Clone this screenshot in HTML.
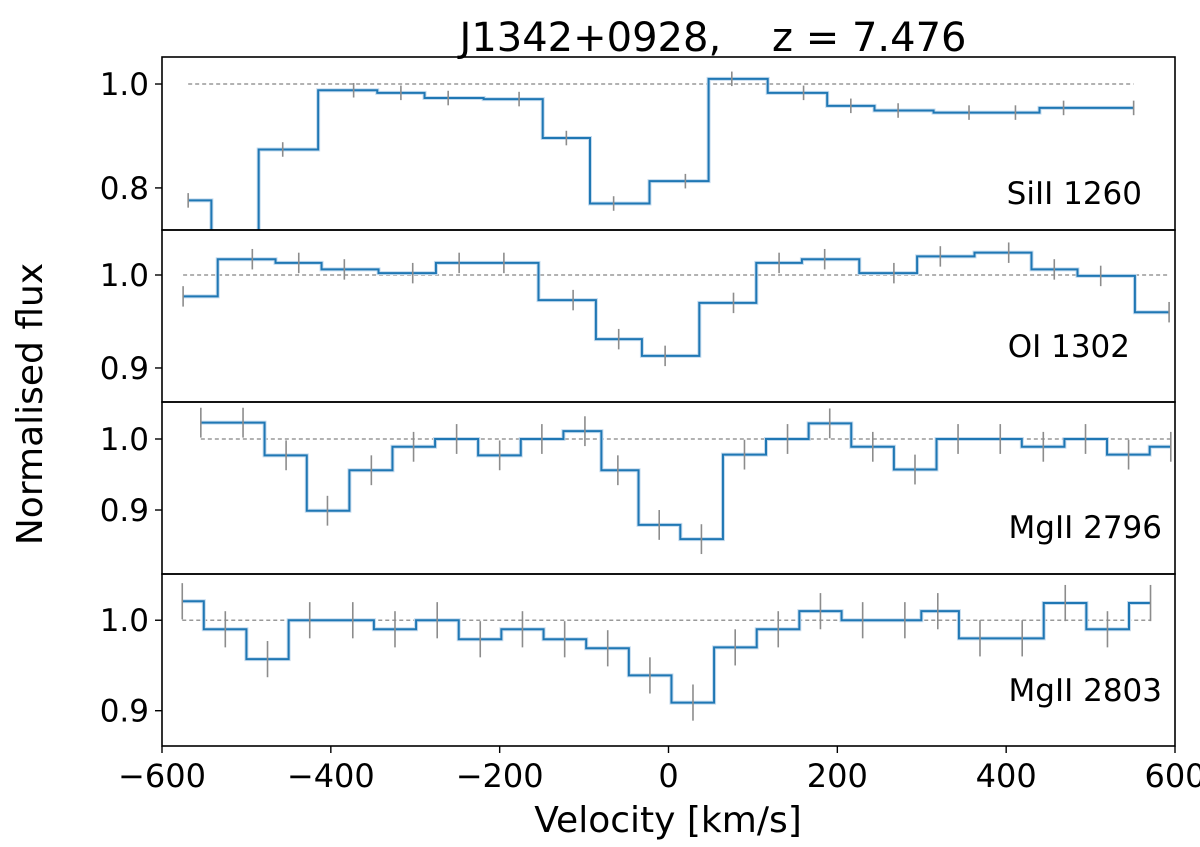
<!DOCTYPE html>
<html><head><meta charset="utf-8"><style>
html,body{margin:0;padding:0;background:#fff;}
svg{display:block;font-family:"DejaVu Sans","Liberation Sans",sans-serif;}
</style></head><body>
<svg id="chart" width="1200" height="847" viewBox="0 0 1200 847" xmlns="http://www.w3.org/2000/svg">
<text x="713" y="51" font-size="40" text-anchor="middle" style="white-space:pre" xml:space="preserve">J1342+0928,    z = 7.476</text>
<text transform="translate(42,404) rotate(-90)" font-size="36" text-anchor="middle">Normalised flux</text>
<text x="668" y="832" font-size="36" text-anchor="middle">Velocity [km/s]</text>
<g id="panels"></g>
</svg>
<script>
// Panel 1: SiII 1260
const siVel = [-569,-514,-457,-373,-317,-261,-177,-121,-65,20,75,160,216,272,356,411,468,551];
const siFlux = [0.776,0.60,0.874,0.988,0.983,0.973,0.971,0.896,0.770,0.813,1.010,0.983,0.958,0.949,0.945,0.945,0.954,0.954];
// Panel 2: OI 1302
const oiVel = [-575,-493,-438,-384,-303,-248,-195,-113,-59,-4,77,131,185,267,322,403,457,512,593];
const oiFlux = [0.977,1.017,1.013,1.006,1.002,1.013,1.013,0.973,0.931,0.913,0.970,1.013,1.017,1.002,1.020,1.024,1.006,0.999,0.960];
// Panel 3: MgII 2796
const mg1Vel = [-554,-504,-453,-404,-352,-302,-251,-200,-150,-99,-60,-11,39,90,141,191,242,292,343,393,444,494,545,595];
const mg1Flux = [1.023,1.023,0.977,0.899,0.956,0.989,1.0,0.977,1.0,1.011,0.956,0.879,0.859,0.978,1.0,1.022,0.989,0.957,1.0,1.0,0.989,1.0,0.978,0.989];
// Panel 4: MgII 2803
const mg2Vel = [-576,-525,-475,-425,-374,-324,-274,-223,-173,-123,-72,-22,29,79,130,180,230,280,319,369,419,470,520,571];
const mg2Flux = [1.021,0.990,0.957,1.0,1.0,0.990,1.0,0.979,0.990,0.979,0.969,0.939,0.909,0.970,0.990,1.010,1.0,1.0,1.010,0.980,0.980,1.019,0.990,1.019];
const panelLabels = ["SiII 1260","OI 1302","MgII 2796","MgII 2803"];
const panelErr = [0.014,0.011,0.021,0.020];
const xTicks = [-600,-400,-200,0,200,400,600];
const yTicks1 = [0.8,1.0];
const yTicksOther = [0.9,1.0];

const NS="http://www.w3.org/2000/svg";
const X0=162,X1=1175,VMIN=-600,VMAX=600;
const xs=v=>X0+(v-VMIN)/(VMAX-VMIN)*(X1-X0);
const panels=[
 {vel:siVel,flux:siFlux,top:57,bot:230,ymin:0.719,ymax:1.052,ticks:yTicks1,lx:1142,ly:204},
 {vel:oiVel,flux:oiFlux,top:230,bot:402,ymin:0.8634,ymax:1.0484,ticks:yTicksOther,lx:1130,ly:357},
 {vel:mg1Vel,flux:mg1Flux,top:402,bot:574,ymin:0.8099,ymax:1.0521,ticks:yTicksOther,lx:1162,ly:538},
 {vel:mg2Vel,flux:mg2Flux,top:574,bot:746,ymin:0.861,ymax:1.0511,ticks:yTicksOther,lx:1162,ly:701}
];
const root=document.getElementById('panels');
function mk(tag,attrs,parent){const e=document.createElementNS(NS,tag);for(const k in attrs)e.setAttribute(k,attrs[k]);(parent||root).appendChild(e);return e;}
panels.forEach((p,i)=>{
 const ys=f=>p.bot-(f-p.ymin)/(p.ymax-p.ymin)*(p.bot-p.top);
 const g=mk('g',{});
 
 
 const cid='clip'+i;
 const cp=mk('clipPath',{id:cid},g);
 mk('rect',{x:X0,y:p.top,width:X1-X0,height:p.bot-p.top},cp);
 const inner=mk('g',{'clip-path':'url(#'+cid+')'},g);
 const cont=mk('line',{x1:xs(p.vel[0]),x2:xs(p.vel[p.vel.length-1]),y1:ys(1),y2:ys(1),stroke:'#999','stroke-width':1.5,'stroke-dasharray':'4,3'},inner);
 
 
 let d='';
 const n=p.vel.length;
 for(let k=0;k<n;k++){
  const xl=k===0?xs(p.vel[0]):xs((p.vel[k-1]+p.vel[k])/2);
  const xr=k===n-1?xs(p.vel[n-1]):xs((p.vel[k]+p.vel[k+1])/2);
  const y=ys(p.flux[k]);
  d+=(k===0?'M':'L')+xl+','+y+'L'+xr+','+y;
 }
 mk('path',{d:d,fill:'none',stroke:'#c6dcef','stroke-width':4},inner);
 const sp=mk('path',{d:d,fill:'none',stroke:'#1f77b4','stroke-width':2},inner);
 
 
 p.vel.forEach((v,k)=>{
  const x=xs(v),e=panelErr[i];
  const eb=mk('line',{x1:x,x2:x,y1:ys(p.flux[k]+e),y2:ys(p.flux[k]-e),stroke:'#8c8c8c','stroke-width':1.6},inner);
  
  
 });
 const fr=mk('rect',{x:X0,y:p.top,width:X1-X0,height:p.bot-p.top,fill:'none',stroke:'#000','stroke-width':1.6},g);
 
 
 p.ticks.forEach(t=>{
  const y=ys(t);
  mk('line',{x1:X0-7,x2:X0,y1:y,y2:y,stroke:'#000','stroke-width':1.4},g);
  const tl=mk('text',{x:149,y:y+11,'font-size':31,'text-anchor':'end'},g);
  tl.textContent=t.toFixed(1);
  
  
 });
 const lab=mk('text',{x:p.lx,y:p.ly,'font-size':31,'text-anchor':'end'},g);
 lab.textContent=panelLabels[i];
 
 
});
xTicks.forEach(t=>{
 const x=xs(t);
 mk('line',{x1:x,x2:x,y1:746,y2:753,stroke:'#000','stroke-width':1.4});
 const tl=mk('text',{x:x,y:787,'font-size':32,'text-anchor':'middle'});
 tl.textContent=(t<0?'\u2212'+(-t):String(t));
 
 
});
</script>
</body></html>
